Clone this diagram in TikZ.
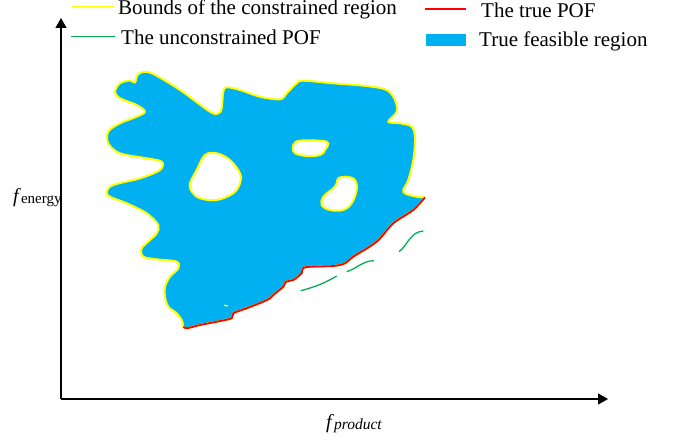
\documentclass[tikz,border=0pt]{standalone}
\usepackage{fontspec}
\setmainfont{Liberation Serif}
\usetikzlibrary{arrows.meta}
\definecolor{feasblue}{HTML}{00B0F0}
\definecolor{boundyellow}{HTML}{FFFF00}
\definecolor{pofred}{HTML}{FF0000}
\definecolor{ucgreen}{HTML}{00B050}
\tikzset{
  axisline/.style={line width=1.2pt,-{Triangle[length=10pt,width=11pt]}},
  legtext/.style={anchor=base west,inner sep=0pt,font=\fontsize{21}{23}\selectfont},
  bound/.style={boundyellow,line width=2pt},
  truepof/.style={pofred,line width=1.8pt},
  ucpof/.style={ucgreen,line width=1.3pt},
}
\begin{document}
\begin{tikzpicture}[x=1pt,y=-1pt]
\useasboundingbox (0,0) rectangle (679,441);
% region
\def\leftpart{(183.3,326.7) (181.7,320) (176.7,313.3) (168.3,306.7) (165,296.7) (165,286.7) (170,276.7) (178.3,268.3) (176.7,261.7) (156.7,259.3) (143.3,256.7) (141.7,248.3) (150,240) (156.7,233.3) (158.3,225) (146.7,213.3) (126.7,203.3) (110,196.7) (106.7,191.7) (113.3,185) (140,178.3) (160,170) (161.7,161.7) (146.7,158.3) (120,153.3) (108.3,143.3) (108.3,131.7) (120,123.3) (136.7,116.7) (145,111.7) (136.7,105) (120,98.3) (115,91.7) (120,83.3) (130,80.5) (135,82.5) (137.5,75) (143.3,72) (153.3,74) (180,90) (210,111.7) (218.3,113.3) (221.7,108.3) (223.3,91.7) (226.7,87.3) (240,90) (260,96.7) (280,99.3) (286.7,93.3) (296.7,83.3) (303.3,80.7) (333.3,83.3) (366.7,86) (386.7,90) (395,100) (396.7,111.7) (388.3,121.7) (400,123.3) (411.7,126.7) (415,138) (413.3,160) (408.3,180) (403.3,192) (416.7,196.7) (425,197.3)}
\def\redpart{(425,197.3) (413.3,210) (393.3,223.3) (376.7,241.7) (353.3,256.7) (345,263.3) (333.3,266) (305,267.3) (301.7,273.3) (293.3,280) (286,281.7) (283.3,286.7) (273.3,295) (270,298.3) (263.3,301.7) (246.7,308.3) (233.3,313.3) (231.7,318.3) (216.7,321.7) (200,325) (186.7,328.3) (183.3,326.7)}
\def\holeA{(205,155) (216.7,153.3) (230,160) (240,173.3) (240,183.3) (233.3,193.3) (216.7,200) (200,198.3) (191.7,191.7) (190,183.3) (196.7,170)}
\def\holeB{(293.3,145) (300,140.7) (326.7,141.7) (325,150) (320,155) (306.7,156) (295,153.3) (292.7,148.3)}
\def\holeC{(338.3,178.3) (346.7,176.7) (355,180) (356.7,190) (351.7,203.3) (343.3,210) (330,210) (321.7,205) (323.3,196.7) (333.3,188.3) (336.7,183.3)}
\fill[feasblue,even odd rule]
  plot[smooth,tension=0.55] coordinates \leftpart
  -- plot[smooth,tension=0.5] coordinates \redpart -- cycle
  plot[smooth cycle,tension=0.6] coordinates \holeA
  plot[smooth cycle,tension=0.6] coordinates \holeB
  plot[smooth cycle,tension=0.6] coordinates \holeC;
\draw[bound] plot[smooth,tension=0.55] coordinates \leftpart;
\draw[bound] plot[smooth,tension=0.5] coordinates \redpart;
\draw[bound] plot[smooth cycle,tension=0.6] coordinates \holeA;
\draw[bound] plot[smooth cycle,tension=0.6] coordinates \holeB;
\draw[bound] plot[smooth cycle,tension=0.6] coordinates \holeC;
\draw[boundyellow,line width=1.4pt] (224,305.3) -- (228,306);
\draw[truepof] plot[smooth,tension=0.5] coordinates \redpart;
% unconstrained POF
\draw[ucpof] (300.7,290.7) .. controls (315,287) and (325,283) .. (336.7,276);
\draw[ucpof] (346.7,271.7) .. controls (358,268) and (362,261) .. (374,260.7);
\draw[ucpof] (399,251.7) .. controls (408,245) and (410,232) .. (423.3,231);
% axes
\coordinate (origin) at (61,399);
\coordinate (ytip) at (61,18);
\coordinate (xtip) at (608,399);
\draw[axisline] (origin) -- (ytip);
\draw[axisline] (origin) -- (xtip);
\node[anchor=base west,inner sep=0pt] (ylab) at (13,202) {\fontsize{20}{22}\selectfont\textit{f}\raisebox{-1pt}{\fontsize{15}{16}\selectfont energy}};
\node[anchor=base west,inner sep=0pt] (xlab) at (326,428) {\fontsize{20}{22}\selectfont\textit{f}\raisebox{-1pt}{\fontsize{15.5}{16}\selectfont\textit{product}}};
% legend
\coordinate (ly1) at (72,6.7); \coordinate (ly2) at (114,6.7);
\draw[boundyellow,line width=1.5pt] (ly1) -- (ly2);
\node[legtext] (lt1) at (118,14.5) {Bounds of the constrained region};
\coordinate (lg1) at (71,36.5); \coordinate (lg2) at (115,36.5);
\draw[ucgreen,line width=1.5pt] (lg1) -- (lg2);
\node[legtext] (lt2) at (121,44.5) {The unconstrained POF};
\coordinate (lr1) at (425,9.3); \coordinate (lr2) at (466,9.3);
\draw[pofred,line width=1.6pt] (lr1) -- (lr2);
\node[legtext] (lt3) at (481,17.5) {The true POF};
\node[fill=feasblue,minimum width=40pt,minimum height=11.5pt,inner sep=0pt,anchor=north west] (lb) at (426,34) {};
\node[legtext] (lt4) at (479,47) {True feasible region};
\end{tikzpicture}
\end{document}
